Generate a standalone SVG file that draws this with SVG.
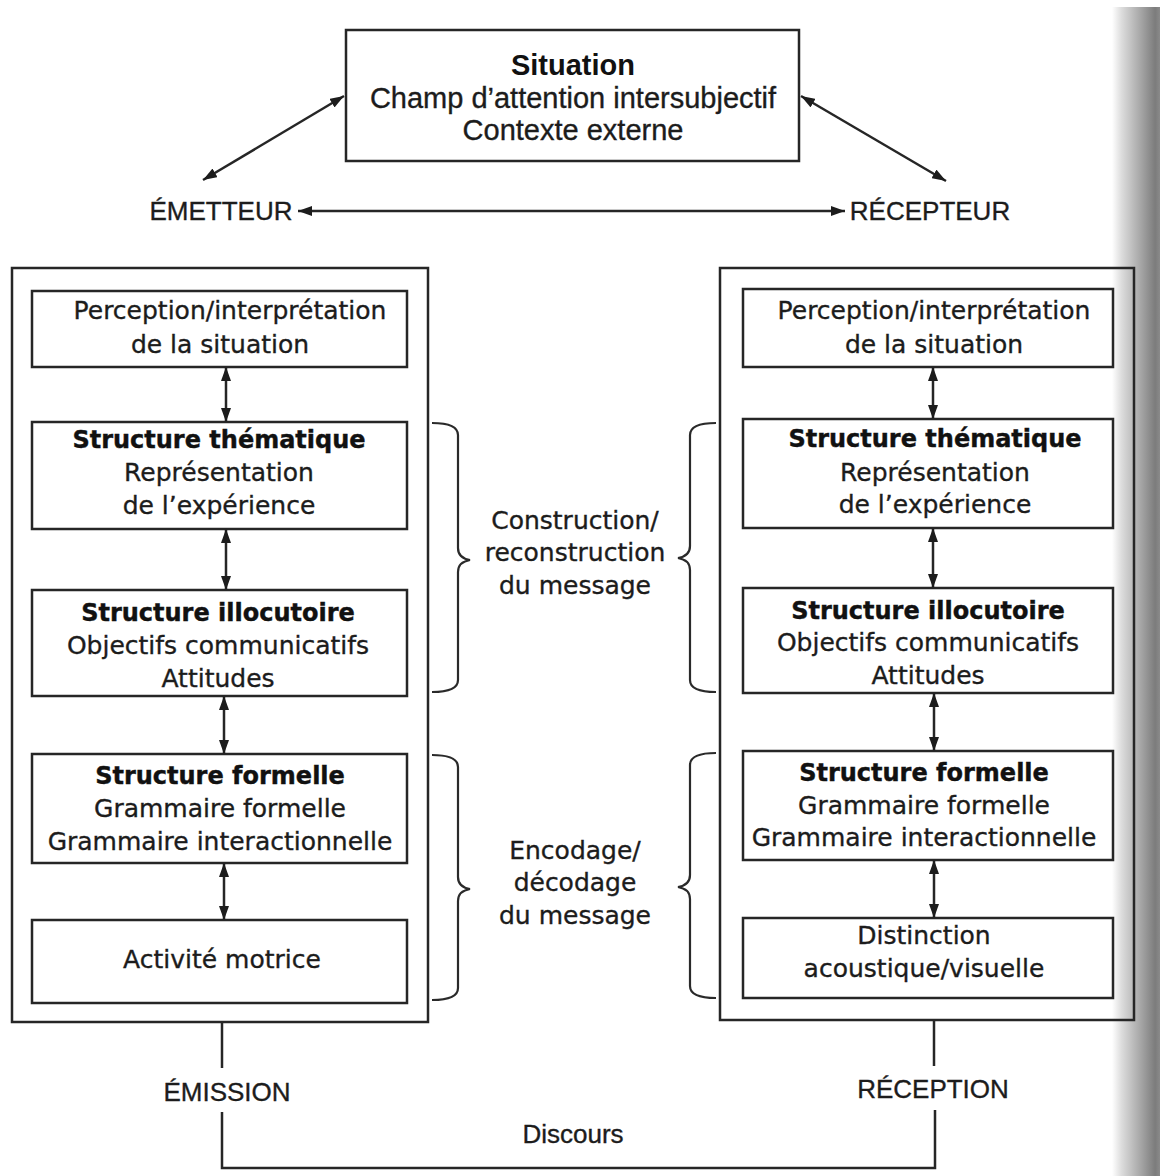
<svg xmlns="http://www.w3.org/2000/svg" width="1160" height="1176" viewBox="0 0 1160 1176">
<style>
.box{fill:none;stroke:#262626;stroke-width:2.5}
.ln{fill:none;stroke:#262626;stroke-width:2.5}
.br{fill:none;stroke:#2a2a2a;stroke-width:2.2}
.t{font-family:"DejaVu Sans",sans-serif;font-size:25px;fill:#1c1c1c;stroke:#1c1c1c;stroke-width:0.35;text-anchor:middle}
.b{font-family:"DejaVu Sans",sans-serif;font-size:24px;font-weight:bold;fill:#111;stroke:#111;stroke-width:0.4;text-anchor:middle}
.h{font-family:"Liberation Sans",Arial,sans-serif;font-size:29px;fill:#1c1c1c;stroke:#1c1c1c;stroke-width:0.35;text-anchor:middle}
.hb{font-family:"Liberation Sans",Arial,sans-serif;font-size:29px;font-weight:bold;fill:#111;text-anchor:middle}
.lab{font-family:"Liberation Sans",Arial,sans-serif;font-size:26px;fill:#1c1c1c;stroke:#1c1c1c;stroke-width:0.35;text-anchor:middle}
</style>
<defs>
<marker id="ah" markerUnits="userSpaceOnUse" markerWidth="14" markerHeight="10" refX="14" refY="5" orient="auto-start-reverse"><path d="M0,0 L14,5 L0,10 z" fill="#1c1c1c"/></marker>
<linearGradient id="edge" x1="0" y1="0" x2="1" y2="0">
<stop offset="0" stop-color="#ffffff"/>
<stop offset="0.2" stop-color="#dcdcdc"/>
<stop offset="0.6" stop-color="#a6a6a6"/>
<stop offset="0.9" stop-color="#7c7c7c"/>
<stop offset="1" stop-color="#8a8a8a"/>
</linearGradient>
</defs>
<rect width="1160" height="1176" fill="#ffffff"/>
<rect x="1112" y="7" width="48" height="1169" fill="url(#edge)"/>

<g id="situation">
<rect class="box" x="346" y="30" width="453" height="131"/>
<text class="hb" x="573" y="75">Situation</text>
<text class="h" x="573" y="108">Champ d’attention intersubjectif</text>
<text class="h" x="573" y="140">Contexte externe</text>
</g>
<g id="emetteur"><text class="lab" x="221" y="220">ÉMETTEUR</text></g>
<g id="recepteur"><text class="lab" x="930" y="220">RÉCEPTEUR</text></g>

<g id="emetteur-frame"><rect class="box" x="12" y="268" width="416" height="754"/></g>
<g id="recepteur-frame"><rect class="box" x="720" y="268" width="414" height="752"/></g>

<g id="e-perception">
<rect class="box" x="32" y="291" width="375" height="76"/>
<text class="t" x="230" y="319">Perception/interprétation</text>
<text class="t" x="220" y="353">de la situation</text>
</g>
<g id="e-thematique">
<rect class="box" x="32" y="422" width="375" height="107"/>
<text class="b" x="219" y="448">Structure thématique</text>
<text class="t" x="219" y="481">Représentation</text>
<text class="t" x="219" y="514">de l’expérience</text>
</g>
<g id="e-illocutoire">
<rect class="box" x="32" y="590" width="375" height="106"/>
<text class="b" x="218" y="621">Structure illocutoire</text>
<text class="t" x="218" y="654">Objectifs communicatifs</text>
<text class="t" x="218" y="687">Attitudes</text>
</g>
<g id="e-formelle">
<rect class="box" x="32" y="754" width="375" height="109"/>
<text class="b" x="220" y="784">Structure formelle</text>
<text class="t" x="220" y="817">Grammaire formelle</text>
<text class="t" x="220" y="850">Grammaire interactionnelle</text>
</g>
<g id="e-motrice">
<rect class="box" x="32" y="920" width="375" height="83"/>
<text class="t" x="222" y="968">Activité motrice</text>
</g>

<g id="r-perception">
<rect class="box" x="743" y="289" width="370" height="78"/>
<text class="t" x="934" y="319">Perception/interprétation</text>
<text class="t" x="934" y="353">de la situation</text>
</g>
<g id="r-thematique">
<rect class="box" x="743" y="419" width="370" height="109"/>
<text class="b" x="935" y="447">Structure thématique</text>
<text class="t" x="935" y="481">Représentation</text>
<text class="t" x="935" y="513">de l’expérience</text>
</g>
<g id="r-illocutoire">
<rect class="box" x="743" y="588" width="370" height="105"/>
<text class="b" x="928" y="619">Structure illocutoire</text>
<text class="t" x="928" y="651">Objectifs communicatifs</text>
<text class="t" x="928" y="684">Attitudes</text>
</g>
<g id="r-formelle">
<rect class="box" x="743" y="751" width="370" height="109"/>
<text class="b" x="924" y="781">Structure formelle</text>
<text class="t" x="924" y="814">Grammaire formelle</text>
<text class="t" x="924" y="846">Grammaire interactionnelle</text>
</g>
<g id="r-distinction">
<rect class="box" x="743" y="918" width="370" height="80"/>
<text class="t" x="924" y="944">Distinction</text>
<text class="t" x="924" y="977">acoustique/visuelle</text>
</g>

<g id="construction-label">
<text class="t" x="575" y="529">Construction/</text>
<text class="t" x="575" y="561">reconstruction</text>
<text class="t" x="575" y="594">du message</text>
</g>
<g id="encodage-label">
<text class="t" x="575" y="859">Encodage/</text>
<text class="t" x="575" y="891">décodage</text>
<text class="t" x="575" y="924">du message</text>
</g>
<g id="emission"><text class="lab" x="227" y="1101">ÉMISSION</text></g>
<g id="reception"><text class="lab" x="933" y="1098">RÉCEPTION</text></g>
<g id="discours"><text class="lab" x="573" y="1143">Discours</text></g>

<g id="braces">
<path class="br" d="M432,423 Q458,423 458,435 L458,548 Q458,558 470,560 Q458,562 458,572 L458,680 Q458,692 432,692"/>
<path class="br" d="M432,755 Q458,755 458,767 L458,877 Q458,887 470,889 Q458,891 458,901 L458,988 Q458,1000 432,1000"/>
<path class="br" d="M716,423 Q690,423 690,435 L690,546 Q690,556 678,558 Q690,560 690,570 L690,680 Q690,692 716,692"/>
<path class="br" d="M716,753 Q690,753 690,765 L690,875 Q690,885 678,887 Q690,889 690,899 L690,986 Q690,998 716,998"/>
</g>

<g id="connectors">
<line class="ln" x1="344" y1="96" x2="203" y2="180" marker-start="url(#ah)" marker-end="url(#ah)"/>
<line class="ln" x1="801" y1="96" x2="946" y2="181" marker-start="url(#ah)" marker-end="url(#ah)"/>
<line class="ln" x1="298" y1="211" x2="845" y2="211" marker-start="url(#ah)" marker-end="url(#ah)"/>
<line class="ln" x1="226" y1="367" x2="226" y2="422" marker-start="url(#ah)" marker-end="url(#ah)"/>
<line class="ln" x1="226" y1="529" x2="226" y2="590" marker-start="url(#ah)" marker-end="url(#ah)"/>
<line class="ln" x1="224" y1="696" x2="224" y2="754" marker-start="url(#ah)" marker-end="url(#ah)"/>
<line class="ln" x1="224" y1="863" x2="224" y2="920" marker-start="url(#ah)" marker-end="url(#ah)"/>
<line class="ln" x1="933" y1="367" x2="933" y2="419" marker-start="url(#ah)" marker-end="url(#ah)"/>
<line class="ln" x1="933" y1="528" x2="933" y2="588" marker-start="url(#ah)" marker-end="url(#ah)"/>
<line class="ln" x1="934" y1="693" x2="934" y2="751" marker-start="url(#ah)" marker-end="url(#ah)"/>
<line class="ln" x1="934" y1="860" x2="934" y2="918" marker-start="url(#ah)" marker-end="url(#ah)"/>
<line class="ln" x1="222" y1="1022" x2="222" y2="1068"/>
<path class="ln" d="M222,1112 L222,1168 L935,1168 L935,1110"/>
<line class="ln" x1="934" y1="1020" x2="934" y2="1066"/>
</g>
</svg>
